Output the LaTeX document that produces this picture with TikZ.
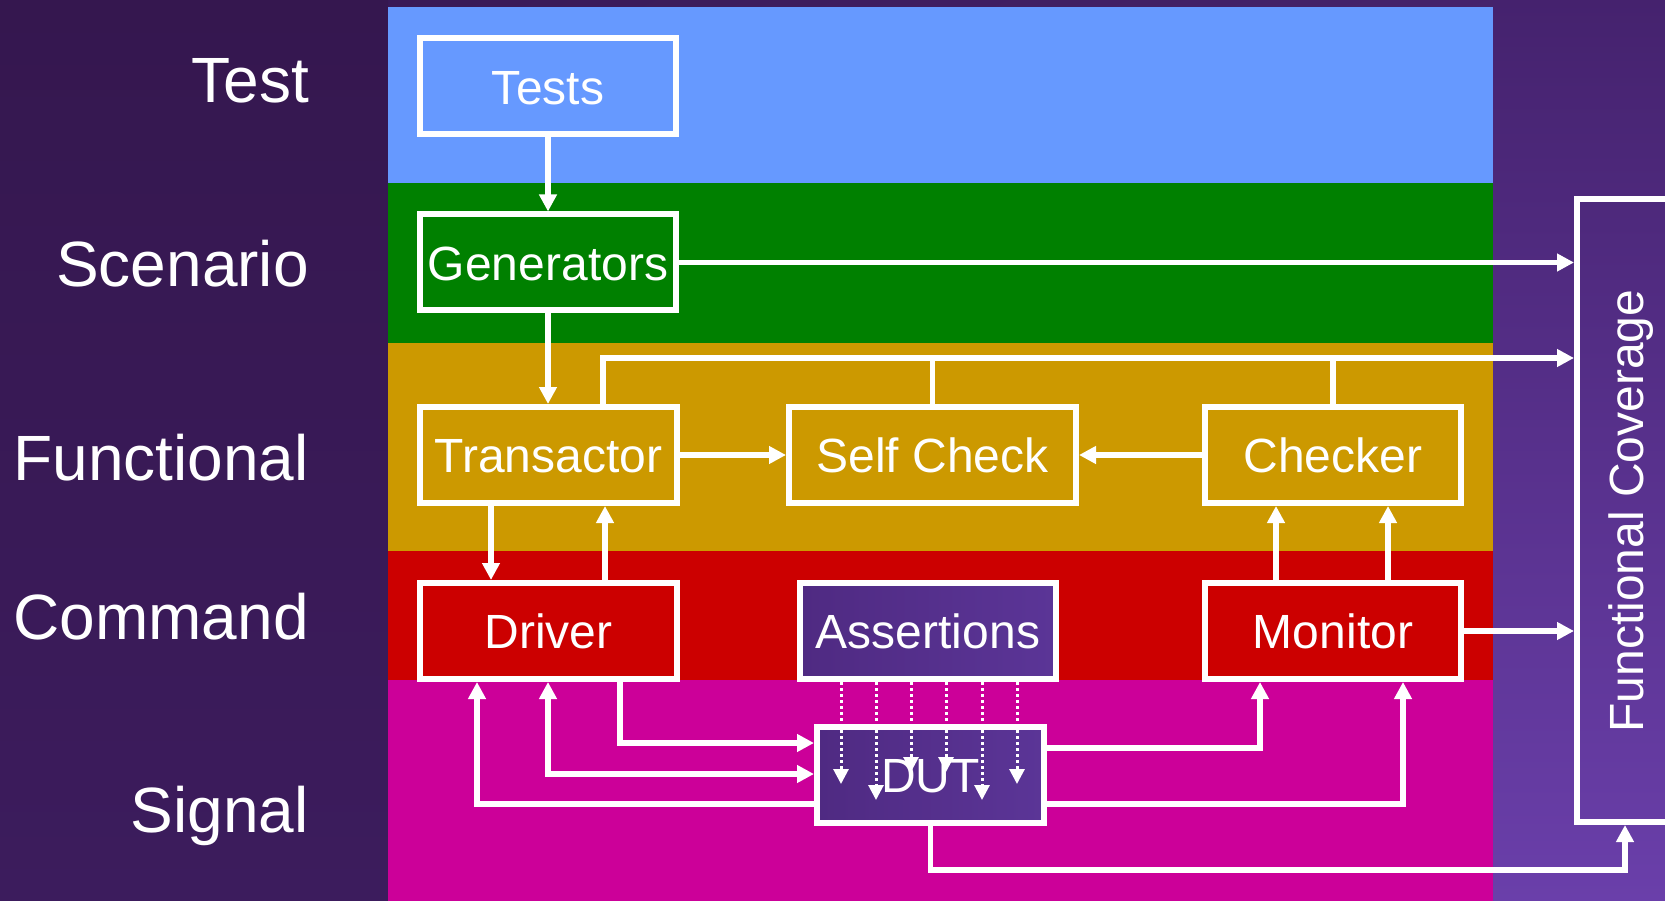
\documentclass[tikz,border=0pt]{standalone}
\usepackage{fontspec}
\setmainfont{Liberation Sans}
\usetikzlibrary{arrows.meta,shadings}

\definecolor{bgUL}{HTML}{34164E}
\definecolor{bgUR}{HTML}{47246F}
\definecolor{bgLL}{HTML}{3C1B5E}
\definecolor{bgLR}{HTML}{6B40AC}
\definecolor{leftTop}{HTML}{35174F}
\definecolor{leftBot}{HTML}{3C1C5D}
\definecolor{rightTop}{HTML}{45226E}
\definecolor{rightBot}{HTML}{6A3FAA}
\definecolor{bandTest}{HTML}{6699FF}
\definecolor{bandScen}{HTML}{008000}
\definecolor{bandFunc}{HTML}{CC9900}
\definecolor{bandCmd}{HTML}{CC0000}
\definecolor{bandSig}{HTML}{CC0099}
\definecolor{boxL}{HTML}{4F2A82}
\definecolor{boxR}{HTML}{5B3597}

\begin{document}
\begin{tikzpicture}[x=1pt,y=-1pt,
  layer/.style={text=white, inner sep=0pt, font=\fontsize{64}{64}\selectfont},
  box/.style={draw=white, line width=6pt, inner sep=0pt, text=white,
    font=\fontsize{48}{48}\selectfont, text height=34pt, text depth=0pt,
    minimum width=256pt, minimum height=96pt},
  purplebox/.style={box, left color=boxL, right color=boxR},
  conn/.style={draw=white, line width=5.5pt, -{Triangle[length=17pt,width=17pt]}},
  bothconn/.style={draw=white, line width=5.5pt,
    {Triangle[length=17pt,width=17pt]}-{Triangle[length=17pt,width=17pt]}},
  busline/.style={draw=white, line width=5.5pt},
  probe/.style={draw=white, line width=3pt, dash pattern=on 3pt off 3pt,
    -{Triangle[length=15pt,width=15pt]}}
]
\useasboundingbox (0,0) rectangle (1665,901);
\clip (0,0) rectangle (1665,901);

% background: side panels and layer bands
\shade[upper left=bgUL, upper right=bgUR, lower left=bgLL, lower right=bgLR]
  (0,0) rectangle (1665,901);
\shade[top color=leftTop, bottom color=leftBot] (0,0) rectangle (388,901);
\shade[top color=rightTop, bottom color=rightBot] (1493,0) rectangle (1665,901);
\fill[bandTest] (388,7)   rectangle (1493,183);
\fill[bandScen] (388,183) rectangle (1493,343);
\fill[bandFunc] (388,343) rectangle (1493,551);
\fill[bandCmd]  (388,551) rectangle (1493,680);
\fill[bandSig]  (388,680) rectangle (1493,901);

% layer names
\node[layer, anchor=base east] (lTest) at (309,103) {Test};
\node[layer, anchor=base east] (lScen) at (309,287) {Scenario};
\node[layer, anchor=base east] (lFunc) at (309,480) {Functional};
\node[layer, anchor=base east] (lCmd)  at (309,639) {Command};
\node[layer, anchor=base east] (lSig)  at (309,832) {Signal};

% components
\node[box] (tests) at (548,86.5) {\raisebox{-1.5pt}{Tests}};
\node[box] (gen)   at (548,262.5) {\raisebox{-1.5pt}{Generators}};
\node[box, minimum width=257pt] (trans) at (548.5,455) {Transactor};
\node[box, minimum width=287pt] (self)  at (932.5,455) {Self Check};
\node[box] (chk)   at (1333,455) {Checker};
\node[box, minimum width=257pt] (drv)   at (548.5,631) {Driver};
\node[purplebox] (asr) at (928,631) {Assertions};
\node[box] (mon)   at (1333,631) {Monitor};
\node[purplebox, minimum width=227pt] (dut) at (930.5,775) {DUT};

% functional coverage collector (runs past the right edge)
\node[draw=white, line width=6pt, inner sep=0pt,
  minimum width=123pt, minimum height=623pt] (fc) at (1638.5,510.5) {};
\node[text=white, inner sep=0pt, font=\fontsize{48}{48}\selectfont,
  anchor=base, rotate=90] (fclab) at (1643,511) {Functional Coverage};

% helper points for routed connectors
\coordinate (bus) at (603,358);
\coordinate (td) at (491,0);
\coordinate (dt) at (605,0);
\coordinate (mc1) at (1276,0);
\coordinate (mc2) at (1388,0);
\coordinate (dd1) at (620,743);
\coordinate (dd2) at (548,774);
\coordinate (dd3) at (477,804);
\coordinate (dm1) at (1260,748);
\coordinate (dm2) at (1403,804);
\coordinate (dfc) at (1625,870);

% test / scenario flow
\draw[conn] (tests.south) -- (gen.north);
\draw[conn] (gen.south) -- (gen.south |- trans.north);
\draw[conn] (gen.east) -- (gen.east -| fc.west);

% functional layer
\draw[conn] (trans.north -| bus) -- (bus) -- (bus -| fc.west);
\draw[busline] (self.north) -- (self.north |- bus);
\draw[busline] (chk.north) -- (chk.north |- bus);
\draw[conn] (trans.east) -- (self.west);
\draw[conn] (chk.west) -- (self.east);

% command layer
\draw[conn] (trans.south -| td) -- (drv.north -| td);
\draw[conn] (drv.north -| dt) -- (trans.south -| dt);
\draw[conn] (mon.north -| mc1) -- (chk.south -| mc1);
\draw[conn] (mon.north -| mc2) -- (chk.south -| mc2);
\draw[conn] (mon.east) -- (mon.east -| fc.west);

% signal layer
\draw[conn] (drv.south -| dd1) |- (dut.west |- dd1);
\draw[bothconn] (drv.south -| dd2) |- (dut.west |- dd2);
\draw[conn] (dut.west |- dd3) -| (drv.south -| dd3);
\draw[conn] (dut.east |- dm1) -| (mon.south -| dm1);
\draw[conn] (dut.east |- dm2) -| (mon.south -| dm2);
\draw[conn] (dut.south) |- (dfc) -- (dfc |- fc.south);

% assertion probes into the DUT
\foreach \px/\py [count=\i] in {841/784, 876/800, 911/772, 946/772, 982/800, 1017/784}{
  \coordinate (tip\i) at (\px,\py);
  \draw[probe] (asr.south -| tip\i) -- (tip\i);
}
\end{tikzpicture}
\end{document}
